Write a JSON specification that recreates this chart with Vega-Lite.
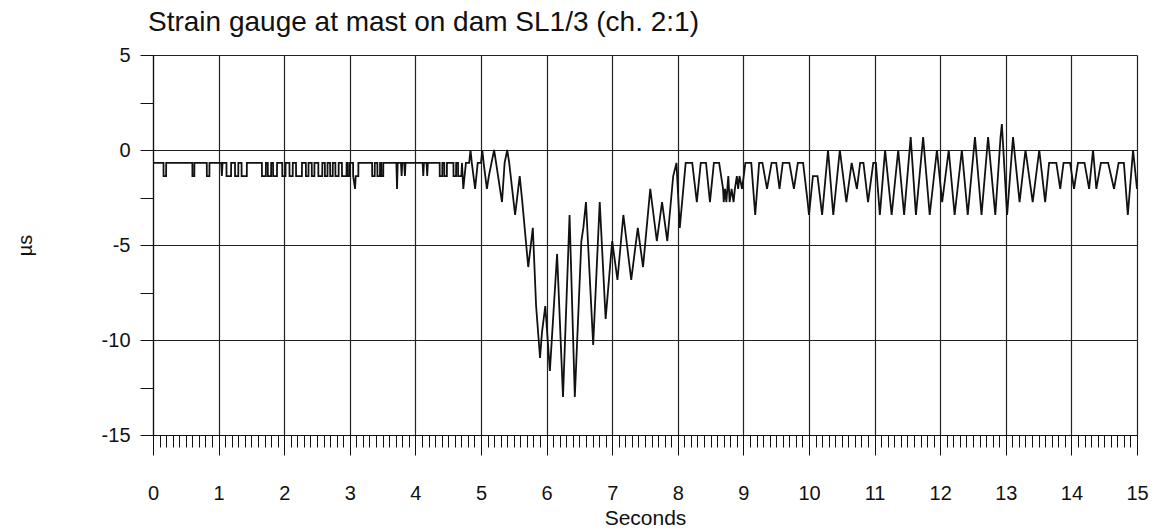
{
  "$schema": "https://vega.github.io/schema/vega-lite/v6.json",
  "width": 984,
  "height": 380,
  "autosize": {"type": "none"},
  "padding": {"left": 153, "top": 55, "right": 23, "bottom": 96},
  "background": "white",
  "title": {"text": "Strain gauge at mast on dam SL1/3 (ch. 2:1)", "anchor": "start", "frame": "group", "dx": -5, "fontSize": 28, "font": "Liberation Sans", "fontWeight": "normal", "color": "#111", "offset": 8},
  "config": {
    "view": {"stroke": null},
    "font": "Liberation Sans"
  },
  "data": {"values": [
    {"t":0,"v":-0.68},
    {"t":0.16,"v":-0.68},{"t":0.161,"v":-1.37},{"t":0.2,"v":-1.37},{"t":0.201,"v":-0.68},
    {"t":0.6,"v":-0.68},{"t":0.601,"v":-1.37},{"t":0.63,"v":-1.37},{"t":0.631,"v":-0.68},
    {"t":0.82,"v":-0.68},{"t":0.821,"v":-1.37},{"t":0.86,"v":-1.37},{"t":0.861,"v":-0.68},
    {"t":1.04,"v":-0.68},{"t":1.05,"v":-1.37},{"t":1.06,"v":-0.68},
    {"t":1.12,"v":-0.68},{"t":1.121,"v":-1.37},{"t":1.19,"v":-1.37},{"t":1.191,"v":-0.68},
    {"t":1.25,"v":-0.68},{"t":1.251,"v":-1.37},{"t":1.3,"v":-1.37},{"t":1.301,"v":-0.68},
    {"t":1.35,"v":-0.68},{"t":1.351,"v":-1.37},{"t":1.43,"v":-1.37},{"t":1.431,"v":-0.68},
    {"t":1.66,"v":-0.68},{"t":1.661,"v":-1.37},{"t":1.72,"v":-1.37},{"t":1.721,"v":-0.68},
    {"t":1.75,"v":-0.68},{"t":1.751,"v":-1.37},{"t":1.8,"v":-1.37},{"t":1.801,"v":-0.68},
    {"t":1.83,"v":-0.68},{"t":1.831,"v":-1.37},{"t":1.89,"v":-1.37},{"t":1.891,"v":-0.68},
    {"t":1.97,"v":-0.68},{"t":1.971,"v":-1.37},{"t":2.02,"v":-1.37},{"t":2.021,"v":-0.68},
    {"t":2.08,"v":-0.68},{"t":2.081,"v":-1.37},{"t":2.13,"v":-1.37},{"t":2.131,"v":-0.68},
    {"t":2.18,"v":-0.68},{"t":2.181,"v":-1.37},{"t":2.27,"v":-1.37},{"t":2.271,"v":-0.68},
    {"t":2.33,"v":-0.68},{"t":2.331,"v":-1.37},{"t":2.37,"v":-1.37},{"t":2.371,"v":-0.68},
    {"t":2.42,"v":-0.68},{"t":2.421,"v":-1.37},{"t":2.46,"v":-1.37},{"t":2.461,"v":-0.68},
    {"t":2.52,"v":-0.68},{"t":2.521,"v":-1.37},{"t":2.58,"v":-1.37},{"t":2.581,"v":-0.68},
    {"t":2.62,"v":-0.68},{"t":2.621,"v":-1.37},{"t":2.66,"v":-1.37},{"t":2.661,"v":-0.68},
    {"t":2.7,"v":-0.68},{"t":2.701,"v":-1.37},{"t":2.74,"v":-1.37},{"t":2.741,"v":-0.68},
    {"t":2.78,"v":-0.68},{"t":2.781,"v":-1.37},{"t":2.83,"v":-1.37},{"t":2.831,"v":-0.68},
    {"t":2.88,"v":-0.68},{"t":2.881,"v":-1.37},{"t":2.95,"v":-1.37},{"t":2.951,"v":-0.68},
    {"t":2.97,"v":-0.68},{"t":2.971,"v":-1.37},{"t":3.0,"v":-1.37},{"t":3.001,"v":-0.68},
    {"t":3.05,"v":-0.68},{"t":3.051,"v":-1.37},{"t":3.08,"v":-2.05},{"t":3.09,"v":-1.37},{"t":3.13,"v":-1.37},{"t":3.131,"v":-0.68},
    {"t":3.34,"v":-0.68},{"t":3.341,"v":-1.37},{"t":3.38,"v":-1.37},{"t":3.381,"v":-0.68},
    {"t":3.42,"v":-0.68},{"t":3.421,"v":-1.37},{"t":3.46,"v":-1.37},{"t":3.461,"v":-0.68},
    {"t":3.48,"v":-0.68},{"t":3.481,"v":-1.37},{"t":3.51,"v":-1.37},{"t":3.511,"v":-0.68},
    {"t":3.71,"v":-0.68},{"t":3.72,"v":-2.05},{"t":3.73,"v":-0.68},
    {"t":3.78,"v":-0.68},{"t":3.79,"v":-1.37},{"t":3.8,"v":-0.68},
    {"t":3.83,"v":-0.68},{"t":3.84,"v":-1.37},{"t":3.85,"v":-0.68},
    {"t":4.11,"v":-0.68},{"t":4.12,"v":-1.37},{"t":4.13,"v":-0.68},
    {"t":4.17,"v":-0.68},{"t":4.18,"v":-1.37},{"t":4.19,"v":-0.68},
    {"t":4.37,"v":-0.68},{"t":4.371,"v":-1.37},{"t":4.41,"v":-1.37},{"t":4.411,"v":-0.68},
    {"t":4.44,"v":-0.68},{"t":4.441,"v":-1.37},{"t":4.48,"v":-1.37},{"t":4.481,"v":-0.68},
    {"t":4.58,"v":-0.68},{"t":4.581,"v":-1.37},{"t":4.62,"v":-1.37},{"t":4.621,"v":-0.68},
    {"t":4.65,"v":-0.68},{"t":4.651,"v":-1.37},{"t":4.7,"v":-1.37},{"t":4.71,"v":-0.68},
    {"t":4.73,"v":-2.05},{"t":4.77,"v":-0.68},{"t":4.82,"v":-0.68},{"t":4.84,"v":0},{"t":4.86,"v":-0.68},
    {"t":4.91,"v":-2.05},{"t":4.95,"v":-0.68},{"t":5.0,"v":-0.68},{"t":5.02,"v":0},{"t":5.04,"v":-0.68},
    {"t":5.09,"v":-2.05},{"t":5.12,"v":-1.37},{"t":5.16,"v":-0.68},{"t":5.2,"v":0},{"t":5.23,"v":-0.68},
    {"t":5.32,"v":-2.74},{"t":5.36,"v":-0.68},{"t":5.4,"v":0},{"t":5.43,"v":-0.68},
    {"t":5.52,"v":-3.42},{"t":5.59,"v":-1.37},{"t":5.63,"v":-2.74},{"t":5.72,"v":-6.16},{"t":5.79,"v":-4.1},
    {"t":5.84,"v":-8.21},{"t":5.87,"v":-9.58},{"t":5.9,"v":-10.94},{"t":5.93,"v":-9.58},{"t":5.98,"v":-8.21},
    {"t":6.05,"v":-11.63},{"t":6.16,"v":-5.47},{"t":6.25,"v":-13.0},{"t":6.35,"v":-3.42},{"t":6.43,"v":-13.0},
    {"t":6.53,"v":-4.79},{"t":6.56,"v":-4.1},{"t":6.6,"v":-2.74},{"t":6.71,"v":-10.26},{"t":6.81,"v":-2.74},
    {"t":6.9,"v":-8.89},{"t":7.0,"v":-4.79},{"t":7.08,"v":-6.84},{"t":7.17,"v":-3.42},{"t":7.29,"v":-6.84},
    {"t":7.39,"v":-4.1},{"t":7.47,"v":-6.16},{"t":7.58,"v":-2.05},{"t":7.68,"v":-4.79},{"t":7.76,"v":-2.74},
    {"t":7.84,"v":-4.79},{"t":7.93,"v":-1.37},{"t":7.98,"v":-0.68},{"t":8.03,"v":-4.1},
    {"t":8.12,"v":-0.68},{"t":8.22,"v":-0.68},{"t":8.29,"v":-2.74},{"t":8.35,"v":-0.68},{"t":8.43,"v":-0.68},
    {"t":8.49,"v":-2.74},{"t":8.55,"v":-0.68},{"t":8.63,"v":-0.68},{"t":8.69,"v":-2.05},{"t":8.7,"v":-2.74},
    {"t":8.72,"v":-2.05},{"t":8.74,"v":-2.74},{"t":8.77,"v":-1.37},{"t":8.79,"v":-2.74},{"t":8.82,"v":-2.05},
    {"t":8.85,"v":-2.74},{"t":8.87,"v":-2.05},{"t":8.9,"v":-1.37},{"t":8.92,"v":-2.05},{"t":8.94,"v":-1.37},
    {"t":8.98,"v":-2.05},{"t":9.03,"v":-0.68},{"t":9.12,"v":-0.68},{"t":9.18,"v":-3.42},{"t":9.24,"v":-0.68},
    {"t":9.29,"v":-0.68},{"t":9.36,"v":-2.05},{"t":9.43,"v":-0.68},{"t":9.5,"v":-0.68},{"t":9.55,"v":-2.05},
    {"t":9.6,"v":-0.68},{"t":9.7,"v":-0.68},{"t":9.77,"v":-2.05},{"t":9.83,"v":-0.68},{"t":9.91,"v":-0.68},
    {"t":9.98,"v":-2.74},{"t":10.0,"v":-3.42},{"t":10.06,"v":-1.37},{"t":10.13,"v":-1.37},{"t":10.2,"v":-3.42},
    {"t":10.29,"v":0},{"t":10.37,"v":-3.42},{"t":10.47,"v":0},{"t":10.57,"v":-2.74},{"t":10.65,"v":-0.68},
    {"t":10.73,"v":-2.05},{"t":10.78,"v":-0.68},{"t":10.83,"v":-0.68},{"t":10.9,"v":-2.74},{"t":10.98,"v":-0.68},
    {"t":11.02,"v":-0.68},{"t":11.08,"v":-3.42},{"t":11.16,"v":0},{"t":11.26,"v":-3.42},{"t":11.36,"v":0},
    {"t":11.45,"v":-3.42},{"t":11.55,"v":0.68},{"t":11.63,"v":-3.42},{"t":11.74,"v":0.68},{"t":11.84,"v":-3.42},
    {"t":11.95,"v":0},{"t":12.03,"v":-2.74},{"t":12.13,"v":0},{"t":12.22,"v":-3.42},{"t":12.33,"v":0},
    {"t":12.42,"v":-3.42},{"t":12.53,"v":0.68},{"t":12.63,"v":-3.42},{"t":12.73,"v":0.68},{"t":12.84,"v":-3.42},
    {"t":12.92,"v":0.68},{"t":12.94,"v":1.37},{"t":13.02,"v":-3.42},{"t":13.11,"v":0.68},{"t":13.21,"v":-2.74},
    {"t":13.3,"v":0},{"t":13.41,"v":-2.74},{"t":13.51,"v":0},{"t":13.6,"v":-2.74},{"t":13.66,"v":-0.68},
    {"t":13.77,"v":-0.68},{"t":13.83,"v":-2.05},{"t":13.88,"v":-0.68},{"t":13.98,"v":-0.68},{"t":14.04,"v":-2.05},
    {"t":14.1,"v":-0.68},{"t":14.2,"v":-0.68},{"t":14.27,"v":-2.05},{"t":14.33,"v":0},{"t":14.38,"v":-2.05},
    {"t":14.45,"v":-0.68},{"t":14.56,"v":-0.68},{"t":14.65,"v":-2.05},{"t":14.72,"v":-0.68},{"t":14.8,"v":-0.68},
    {"t":14.86,"v":-3.42},{"t":14.94,"v":0},{"t":15.0,"v":-2.05}
  ]},
  "mark": {"type": "line", "color": "#111", "strokeWidth": 1.8, "interpolate": "linear", "clip": true},
  "encoding": {
    "x": {
      "field": "t", "type": "quantitative",
      "scale": {"domain": [0, 15], "nice": false, "zero": false},
      "axis": {
        "title": "Seconds",
        "titleFont": "Liberation Sans", "titleFontSize": 21, "titleFontWeight": "normal", "titleColor": "#111",
        "titleX": 492, "titleY": 89, "titleBaseline": "alphabetic", "titleAnchor": null, "titleAlign": "center",
        "values": [0,0.1,0.2,0.3,0.4,0.5,0.6,0.7,0.8,0.9,1,1.1,1.2,1.3,1.4,1.5,1.6,1.7,1.8,1.9,2,2.1,2.2,2.3,2.4,2.5,2.6,2.7,2.8,2.9,3,3.1,3.2,3.3,3.4,3.5,3.6,3.7,3.8,3.9,4,4.1,4.2,4.3,4.4,4.5,4.6,4.7,4.8,4.9,5,5.1,5.2,5.3,5.4,5.5,5.6,5.7,5.8,5.9,6,6.1,6.2,6.3,6.4,6.5,6.6,6.7,6.8,6.9,7,7.1,7.2,7.3,7.4,7.5,7.6,7.7,7.8,7.9,8,8.1,8.2,8.3,8.4,8.5,8.6,8.7,8.8,8.9,9,9.1,9.2,9.3,9.4,9.5,9.6,9.7,9.8,9.9,10,10.1,10.2,10.3,10.4,10.5,10.6,10.7,10.8,10.9,11,11.1,11.2,11.3,11.4,11.5,11.6,11.7,11.8,11.9,12,12.1,12.2,12.3,12.4,12.5,12.6,12.7,12.8,12.9,13,13.1,13.2,13.3,13.4,13.5,13.6,13.7,13.8,13.9,14,14.1,14.2,14.3,14.4,14.5,14.6,14.7,14.8,14.9,15],
        "labelExpr": "abs(datum.value - round(datum.value)) < 0.001 ? '' + round(datum.value) : ''",
        "labelOverlap": false, "labelFlush": false,
        "labelFont": "Liberation Sans", "labelFontSize": 20, "labelColor": "#111", "labelPadding": 28,
        "tickSize": {"condition": {"test": "abs(datum.value - round(datum.value)) < 0.001", "value": 20}, "value": 12},
        "tickColor": "#111", "tickWidth": 1,
        "domainColor": "#111", "domainWidth": 1.2,
        "grid": true, "gridColor": "#222", "gridWidth": 1.2,
        "gridOpacity": {"condition": {"test": "abs(datum.value - round(datum.value)) < 0.001", "value": 1}, "value": 0}
      }
    },
    "y": {
      "field": "v", "type": "quantitative",
      "scale": {"domain": [-15, 5], "nice": false, "zero": false},
      "axis": {
        "title": "µs",
        "titleFont": "Liberation Sans", "titleFontSize": 20, "titleFontWeight": "normal", "titleColor": "#111",
        "titleX": -128, "titleY": 190, "titleAngle": -90, "titleBaseline": "middle", "titleAlign": "center", "titleAnchor": null,
        "values": [-15, -12.5, -10, -7.5, -5, -2.5, 0, 2.5, 5],
        "labelExpr": "datum.value % 5 === 0 ? '' + datum.value : ''",
        "labelFont": "Liberation Sans", "labelFontSize": 20, "labelColor": "#111", "labelPadding": 10,
        "tickSize": 13, "tickColor": "#111", "tickWidth": 1,
        "domainColor": "#111", "domainWidth": 1.2,
        "grid": true, "gridColor": "#222", "gridWidth": 1.2,
        "gridOpacity": {"condition": {"test": "datum.value % 5 === 0", "value": 1}, "value": 0}
      }
    }
  }
}
